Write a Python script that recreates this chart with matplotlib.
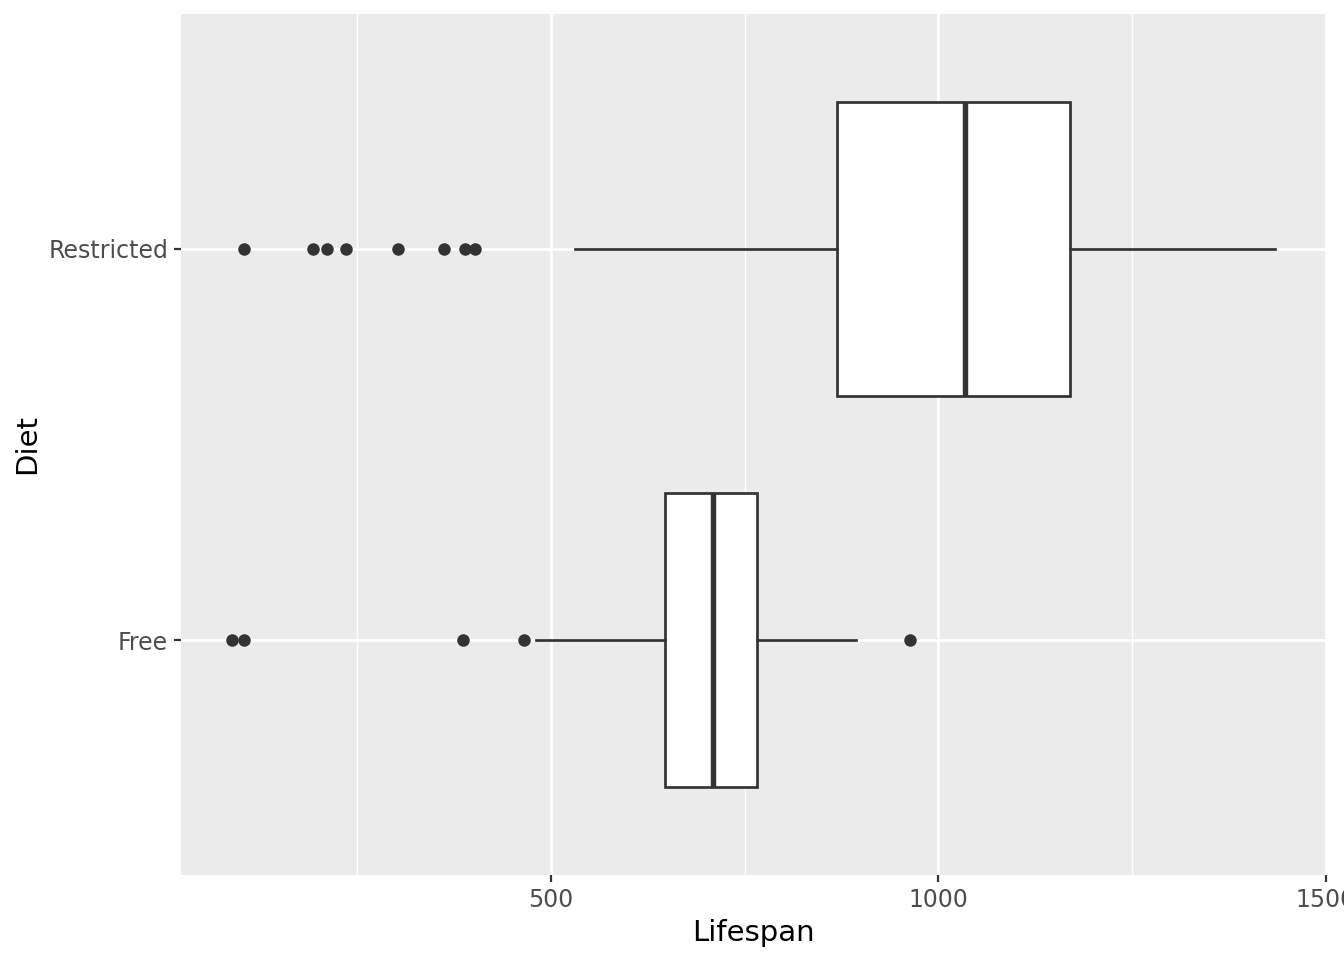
import matplotlib
matplotlib.use("Agg")
import matplotlib.pyplot as plt

# data (lifespan in days)
diets = ["Free", "Restricted"]
whisker_low = [481, 531]
q1 = [648, 869]
median = [709, 1035]
q3 = [766, 1170]
whisker_high = [894, 1434]
outliers = [
    [89, 104, 387, 465, 963],
    [104, 193, 211, 236, 303, 363, 389, 403],
]

x_ticks = [500, 1000, 1500]
x_minor = [250, 750, 1250]

dark = "#333333"

fig = plt.figure(figsize=(13.44, 9.6), dpi=100)
ax = fig.add_axes([181 / 1344, 1 - 875 / 960, (1326 - 181) / 1344, (875 - 14) / 960])
ax.set_facecolor("#EBEBEB")
for s in ax.spines.values():
    s.set_visible(False)

stats = []
for i, d in enumerate(diets):
    stats.append(dict(label=d, whislo=whisker_low[i], q1=q1[i], med=median[i],
                      q3=q3[i], whishi=whisker_high[i], fliers=outliers[i]))

ax.bxp(stats, positions=[1, 2], widths=0.75, vert=False, patch_artist=True,
       showcaps=False,
       boxprops=dict(facecolor="white", edgecolor=dark, linewidth=1.95),
       whiskerprops=dict(color=dark, linewidth=1.95),
       medianprops=dict(color=dark, linewidth=3.9, solid_capstyle="butt"),
       flierprops=dict(marker="o", markersize=9, markerfacecolor=dark,
                       markeredgecolor=dark, markeredgewidth=0),
       zorder=3)

ax.set_xlim(23.2, 1497.5)
ax.set_ylim(0.4, 2.6)
ax.set_xticks(x_ticks)
ax.set_xticks(x_minor, minor=True)
ax.set_yticks([1, 2])
ax.set_yticklabels(diets)
ax.grid(True, which="major", color="white", linewidth=2.0)
ax.grid(True, which="minor", axis="x", color="white", linewidth=1.0)
ax.set_axisbelow(True)
ax.tick_params(which="major", length=5.3, width=1.6, color=dark, labelcolor="#4D4D4D",
               labelsize=17, pad=4)
ax.tick_params(which="minor", length=0)

ax.set_xlabel("Lifespan", fontsize=21, color="black", labelpad=5)
ax.set_ylabel("Diet", fontsize=21, color="black", labelpad=5)

fig.savefig("out.png", dpi=100)
